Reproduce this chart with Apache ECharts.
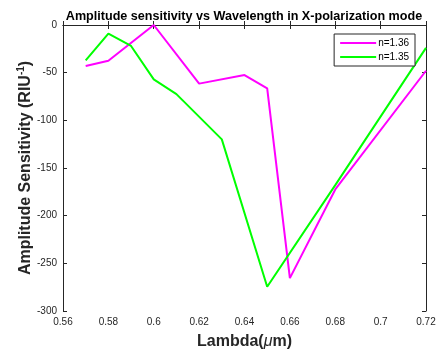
<!DOCTYPE html>
<html>
<head>
<meta charset="utf-8">
<script src="https://cdn.jsdelivr.net/npm/echarts@6/dist/echarts.min.js"></script>
<style>
  html, body { margin: 0; padding: 0; background: #fff; }
  #chart { width: 437px; height: 351px; }
</style>
</head>
<body>
<div id="chart"></div>
<script>
// Data
const lambda136 = [0.57, 0.58, 0.60, 0.62, 0.64, 0.65, 0.66, 0.68, 0.72];
const sens136 = [-43, -37.5, 0, -61.5, -52.5, -66.5, -265.5, -172.5, -48];
const lambda135 = [0.57, 0.58, 0.59, 0.60, 0.61, 0.63, 0.65, 0.68, 0.72];
const sens135 = [-37, -9, -22, -57, -72.5, -120, -274.5, -168, -24];
const seriesNames = ["n=1.36", "n=1.35"];
const seriesColors = ["#ff00ff", "#00ff00"];

const font = "Liberation Sans, Arial, sans-serif";
const tickColor = "#262626";

const chart = echarts.init(document.getElementById("chart"));

const toPairs = (xs, ys) => xs.map((x, i) => [x, ys[i]]);

const baseAxis = {
  axisLine: { show: true, lineStyle: { color: tickColor, width: 1 } },
  axisTick: { show: true, inside: true, length: 4, lineStyle: { color: tickColor } },
  splitLine: { show: false },
};

const option = {
  backgroundColor: "#fff",
  animation: false,
  title: {
    text: "Amplitude sensitivity vs Wavelength in X-polarization mode",
    left: 239,
    textAlign: "center",
    top: 5,
    textStyle: { fontFamily: font, fontSize: 12.6, fontWeight: "bold", color: "#000" },
  },
  legend: {
    right: 22,
    top: 34,
    orient: "vertical",
    itemWidth: 36,
    itemHeight: 2,
    itemGap: 4,
    padding: [4, 6, 4, 6],
    borderColor: "#262626",
    borderWidth: 1,
    backgroundColor: "#fff",
    icon: "rect",
    textStyle: { fontFamily: font, fontSize: 10, color: "#000", padding: [0, 0, 0, -3] },
    data: seriesNames,
  },
  grid: { left: 63, right: 11, top: 25, bottom: 40, containLabel: false, outerBoundsMode: "none" },
  xAxis: [
    {
      ...baseAxis,
      type: "value",
      min: 0.56,
      max: 0.72,
      interval: 0.02,
      axisLabel: {
        fontFamily: font, fontSize: 10, color: tickColor, margin: 6,
        formatter: (v) => String(parseFloat(v.toFixed(2))),
      },
      name: "{b|Lambda(}{i|μ}{b|m)}",
      nameLocation: "middle",
      nameGap: 23,
      nameMoveOverlap: false,
      nameTextStyle: {
        rich: {
          b: { fontFamily: font, fontSize: 16, fontWeight: "bold", color: "#262626" },
          i: { fontFamily: font, fontSize: 16, fontStyle: "italic", color: "#262626" },
        },
      },
    },
    {
      ...baseAxis,
      type: "value",
      position: "top",
      min: 0.56,
      max: 0.72,
      interval: 0.02,
      axisLabel: { show: false },
    },
  ],
  yAxis: [
    {
      ...baseAxis,
      type: "value",
      min: -300,
      max: 0,
      interval: 50,
      axisLabel: { fontFamily: font, fontSize: 10, color: tickColor, margin: 6 },
      name: "{b|Amplitude Sensitivity (RIU}{s|-1}{b|)}",
      nameLocation: "middle",
      nameGap: 28,
      nameMoveOverlap: false,
      nameTextStyle: {
        rich: {
          b: { fontFamily: font, fontSize: 16, fontWeight: "bold", color: "#262626" },
          s: { fontFamily: font, fontSize: 10, fontWeight: "bold", color: "#262626", verticalAlign: "top", padding: [0, 0, 9, 0] },
        },
      },
    },
    {
      ...baseAxis,
      type: "value",
      position: "right",
      min: -300,
      max: 0,
      interval: 50,
      axisLabel: { show: false },
    },
  ],
  series: [
    {
      name: seriesNames[0],
      type: "line",
      data: toPairs(lambda136, sens136),
      showSymbol: false,
      lineStyle: { color: seriesColors[0], width: 2 },
      itemStyle: { color: seriesColors[0] },
    },
    {
      name: seriesNames[1],
      type: "line",
      data: toPairs(lambda135, sens135),
      showSymbol: false,
      lineStyle: { color: seriesColors[1], width: 2 },
      itemStyle: { color: seriesColors[1] },
    },
  ],
};

chart.setOption(option);
</script>
</body>
</html>
